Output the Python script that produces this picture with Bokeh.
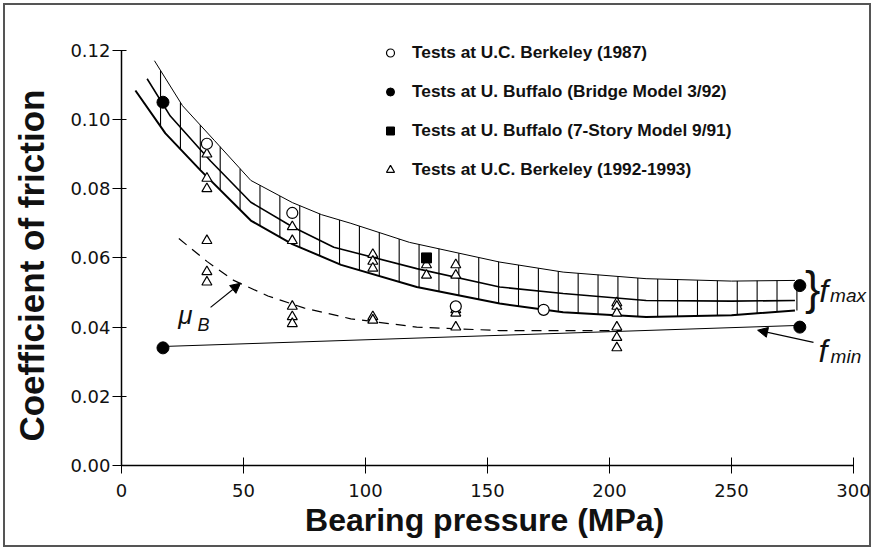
import numpy as np
from bokeh.plotting import figure
from bokeh.models import (LinearAxis, FixedTicker, PrintfTickFormatter, Range1d,
                          Legend, LegendItem, Label, Arrow, NormalHead, InlineStyleSheet)
from bokeh.embed import file_html
from bokeh.resources import INLINE

# ---------------- data ----------------
x_ticks = [0, 50, 100, 150, 200, 250, 300]
y_ticks = [0.00, 0.02, 0.04, 0.06, 0.08, 0.10, 0.12]

berk87_x = [35, 70, 137, 173]
berk87_y = [0.093, 0.073, 0.046, 0.045]

bridge_x = [17, 17, 278, 278]
bridge_y = [0.105, 0.034, 0.052, 0.040]

story7_x = [125]
story7_y = [0.060]

berk92_x = [35, 35, 35, 35, 35, 35,
            70, 70, 70, 70, 70,
            103, 103, 103, 103, 103,
            125, 125,
            137, 137, 137, 137, 137,
            203, 203, 203, 203, 203, 203]
berk92_y = [0.090, 0.083, 0.080, 0.065, 0.056, 0.053,
            0.069, 0.065, 0.046, 0.043, 0.041,
            0.061, 0.059, 0.057, 0.043, 0.042,
            0.058, 0.055,
            0.058, 0.055, 0.045, 0.044, 0.040,
            0.047, 0.046, 0.044, 0.040, 0.037, 0.034]

fmax_up_x = [13.5, 25, 38, 53, 70, 82, 94, 118, 155, 181, 215, 250, 276]
fmax_up_y = [0.117, 0.104, 0.094, 0.0824, 0.0760, 0.0725, 0.0700, 0.0645,
             0.0588, 0.0559, 0.0540, 0.0533, 0.0535]

fmax_mid_x = [10.5, 20, 36.5, 53, 70, 87, 121, 155, 181, 215, 250, 276]
fmax_mid_y = [0.1118, 0.101, 0.088, 0.0761, 0.069, 0.0631, 0.0569, 0.0516,
              0.0497, 0.0477, 0.0475, 0.0477]

fmax_low_x = [5.7, 18, 32.4, 53, 70, 90, 121, 155, 181, 215, 250, 276]
fmax_low_y = [0.1084, 0.096, 0.0853, 0.0708, 0.064, 0.058, 0.0516, 0.0468,
              0.0443, 0.0429, 0.0434, 0.0448]

mub_x = [23.5, 35, 46, 60, 75, 94, 121, 155, 205]
mub_y = [0.0656, 0.059, 0.0535, 0.049, 0.0455, 0.0424, 0.040, 0.039, 0.039]

fmin_x = [17, 278]
fmin_y = [0.0344, 0.0405]

# ---------------- figure ----------------
FONT = "Liberation Sans"
TICKFONT = "DejaVu Sans"
NB = "\u00a0"
border_css = InlineStyleSheet(css=":host { background: white; "
                                  "box-shadow: inset 0 0 0 3px white, inset 0 0 0 5px #555; }")
p = figure(width=874, height=550, x_range=Range1d(0, 308.6), y_range=Range1d(0, 0.124),
           output_backend="svg", toolbar_location=None,
           x_axis_type=None, y_axis_type=None,
           min_border_left=121, min_border_right=0, min_border_top=36, min_border_bottom=85,
           stylesheets=[border_css])
p.outline_line_color = None
p.background_fill_alpha = 0
p.border_fill_alpha = 0

xaxis = LinearAxis(bounds=(0, 300), ticker=FixedTicker(ticks=x_ticks),
                   axis_label="Bearing pressure (MPa)" + NB * 3)
yaxis = LinearAxis(bounds=(0, 0.12), ticker=FixedTicker(ticks=y_ticks),
                   formatter=PrintfTickFormatter(format="%.2f"),
                   axis_label="Coefficient of friction" + NB * 3)
for ax in (xaxis, yaxis):
    ax.axis_line_color = "black"
    ax.axis_line_width = 1.5
    ax.major_tick_line_color = "black"
    ax.major_tick_line_width = 1
    ax.minor_tick_line_color = None
    ax.major_label_text_font = TICKFONT
    ax.major_label_text_font_size = "18px"
    ax.major_label_text_color = "#111"
    ax.axis_label_text_font = FONT
    ax.axis_label_text_font_style = "bold"
    ax.axis_label_text_color = "#111"
xaxis.axis_label_text_font_size = "32px"
yaxis.axis_label_text_font_size = "35px"
xaxis.major_tick_in = 8
xaxis.major_tick_out = 8
xaxis.major_label_standoff = 10
xaxis.axis_label_standoff = 2
yaxis.major_tick_in = 5
yaxis.major_tick_out = 9
yaxis.major_label_standoff = 2
yaxis.axis_label_standoff = 16
p.add_layout(xaxis, "below")
p.add_layout(yaxis, "left")

# ---------------- band of f_max ----------------
hatch_x = np.arange(16, 277, 8.15)
hatch_top = np.interp(hatch_x, fmax_up_x, fmax_up_y)
hatch_bot = np.interp(hatch_x, fmax_low_x, fmax_low_y)
p.segment(hatch_x, hatch_top, hatch_x, hatch_bot, line_color="black", line_width=1.1)

p.line(fmax_up_x, fmax_up_y, line_color="black", line_width=1.0)
p.line(fmax_mid_x, fmax_mid_y, line_color="black", line_width=1.6)
p.line(fmax_low_x, fmax_low_y, line_color="black", line_width=2.0)

p.line(mub_x, mub_y, line_color="black", line_width=1.2, line_dash="10 7")
p.line(fmin_x, fmin_y, line_color="black", line_width=1.0)

# ---------------- markers ----------------
r92 = p.scatter(berk92_x, berk92_y, marker="triangle", size=10,
                line_color="black", fill_color="white", line_width=1.2)
r87 = p.scatter(berk87_x, berk87_y, marker="circle", size=11,
                line_color="black", fill_color="white", line_width=1.2)
rbr = p.scatter(bridge_x, bridge_y, marker="circle", size=12,
                line_color="black", fill_color="black")
r7 = p.scatter(story7_x, story7_y, marker="square", size=10,
               line_color="black", fill_color="black")

legend = Legend(items=[
    LegendItem(label="Tests at U.C. Berkeley (1987)", renderers=[r87]),
    LegendItem(label="Tests at U. Buffalo (Bridge Model 3/92)", renderers=[rbr]),
    LegendItem(label="Tests at U. Buffalo (7-Story Model 9/91)", renderers=[r7]),
    LegendItem(label="Tests at U.C. Berkeley (1992-1993)", renderers=[r92]),
], location=(259, 285))
legend.padding = 0
legend.margin = 0
legend.spacing = 18
legend.glyph_width = 20
legend.glyph_height = 21
legend.label_height = 21
legend.label_standoff = 12
legend.label_text_font = FONT
legend.label_text_font_style = "bold"
legend.label_text_font_size = "17.3px"
legend.label_text_color = "#111"
legend.background_fill_alpha = 0
legend.border_line_color = None
p.add_layout(legend)

# ---------------- annotations ----------------
def lab(x, y, text, size, style="italic", align="left", baseline="alphabetic"):
    p.add_layout(Label(x=x, y=y, text=text, text_font=FONT, text_font_size=size,
                       text_font_style=style, text_align=align,
                       text_baseline=baseline, text_color="#111"))

lab(26.2, 0.0434, "μ", "26px", align="center", baseline="middle")
lab(31.1, 0.0405, "B", "18px")
lab(283.3, 0.0514, "}", "46px", style="normal", align="center", baseline="middle")
lab(286.0, 0.0505, "f", "32px")
lab(290.4, 0.0492, "max", "19px")
lab(285.7, 0.0330, "f", "32px")
lab(290.6, 0.0315, "min", "19px")

p.add_layout(Arrow(end=NormalHead(size=10, fill_color="black", line_color="black"),
                   x_start=36.5, y_start=0.0457, x_end=48.8, y_end=0.0527,
                   line_color="black", line_width=1.2))
p.add_layout(Arrow(end=NormalHead(size=10, fill_color="black", line_color="black"),
                   x_start=283.6, y_start=0.0356, x_end=260.7, y_end=0.0391,
                   line_color="black", line_width=1.2))

open("out.html", "w").write(file_html(p, INLINE))
